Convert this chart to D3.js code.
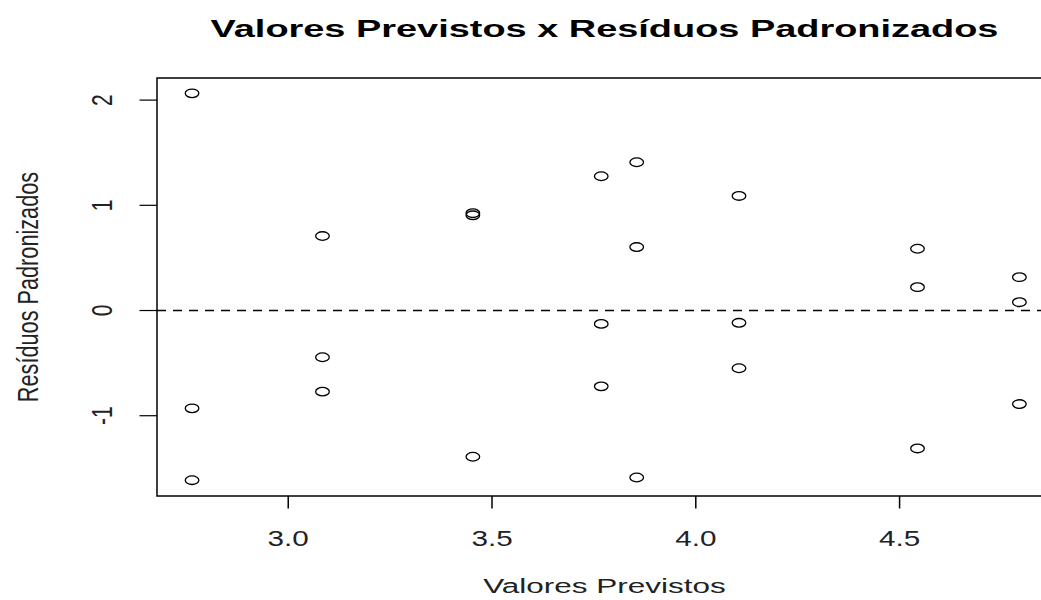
<!DOCTYPE html>
<html>
<head>
<meta charset="utf-8">
<script src="https://cdn.jsdelivr.net/npm/d3@7"></script>
<style>
  body { margin: 0; background: #fff; overflow: hidden; }
  svg { display: block; font-family: "Liberation Sans", Arial, sans-serif; }
</style>
</head>
<body>
<svg id="chart" width="1041" height="600"></svg>
<script>
// valores previstos (x) e residuos padronizados (y)
const previstos = [
  2.764, 2.764, 2.764,
  3.084, 3.084, 3.084,
  3.453, 3.453, 3.453,
  3.768, 3.768, 3.768,
  3.855, 3.855, 3.855,
  4.106, 4.106, 4.106,
  4.544, 4.544, 4.544,
  4.794, 4.794, 4.794
];
const residuos = [
  2.064, -0.930, -1.613,
  0.708, -0.444, -0.771,
  0.925, 0.905, -1.390,
  1.276, -0.127, -0.721,
  1.409, 0.603, -1.587,
  1.089, -0.117, -0.549,
  0.587, 0.222, -1.311,
  0.317, 0.079, -0.889
];
const xTicks = [3.0, 3.5, 4.0, 4.5];
const yTicks = [-1, 0, 1, 2];

const titulo = 'Valores Previstos x Resíduos Padronizados';
const rotuloX = 'Valores Previstos';
const rotuloY = 'Resíduos Padronizados';

const svg = d3.select('#chart');
const box = { left: 157, right: 1052, top: 78, bottom: 496 };
const stretch = 1.38;   // the picture is wider than it is tall

const x = d3.scaleLinear().domain([2.678, 4.874]).range([box.left, box.right]);
const y = d3.scaleLinear().domain([-1.763, 2.21]).range([box.bottom, box.top]);

// linha de referencia em zero
svg.append('line')
  .attr('x1', box.left).attr('x2', box.right)
  .attr('y1', y(0)).attr('y2', y(0))
  .attr('stroke', '#000')
  .attr('stroke-width', 1.3)
  .attr('stroke-dasharray', '9,7');

// pontos
svg.append('g')
  .selectAll('ellipse')
  .data(previstos.map((d, i) => ({ x: d, y: residuos[i] })))
  .join('ellipse')
  .attr('cx', d => x(d.x))
  .attr('cy', d => y(d.y))
  .attr('rx', 6.8)
  .attr('ry', 4.3)
  .attr('fill', 'none')
  .attr('stroke', '#000')
  .attr('stroke-width', 1.3);

// moldura
svg.append('rect')
  .attr('x', box.left).attr('y', box.top)
  .attr('width', box.right - box.left)
  .attr('height', box.bottom - box.top)
  .attr('fill', 'none')
  .attr('stroke', '#000')
  .attr('stroke-width', 1.5);

// eixo x
const xAxis = svg.append('g');
xAxis.selectAll('line')
  .data(xTicks)
  .join('line')
  .attr('x1', d => x(d)).attr('x2', d => x(d))
  .attr('y1', box.bottom).attr('y2', box.bottom + 12.5)
  .attr('stroke', '#000')
  .attr('stroke-width', 1.5);
xAxis.selectAll('text')
  .data(xTicks)
  .join('text')
  .attr('transform', d => `translate(${x(d)}, 546) scale(${stretch}, 1)`)
  .attr('text-anchor', 'middle')
  .attr('font-size', 21.5)
  .attr('fill', '#222')
  .text(d3.format('.1f'));

// eixo y
const yAxis = svg.append('g');
yAxis.selectAll('line')
  .data(yTicks)
  .join('line')
  .attr('x1', box.left - 17.5).attr('x2', box.left)
  .attr('y1', d => y(d)).attr('y2', d => y(d))
  .attr('stroke', '#000')
  .attr('stroke-width', 1.2);
yAxis.selectAll('text')
  .data(yTicks)
  .join('text')
  .attr('transform', d => `translate(112, ${y(d)}) scale(${stretch}, 1) rotate(-90)`)
  .attr('text-anchor', 'middle')
  .attr('font-size', 21)
  .attr('fill', '#222')
  .text(d => d);

// rotulos
svg.append('text')
  .attr('transform', `translate(${(box.left + box.right) / 2}, 593) scale(1.5, 1)`)
  .attr('text-anchor', 'middle')
  .attr('font-size', 21)
  .attr('fill', '#222')
  .text(rotuloX);

svg.append('text')
  .attr('transform', `translate(38, ${(box.top + box.bottom) / 2}) scale(${stretch}, 1) rotate(-90)`)
  .attr('text-anchor', 'middle')
  .attr('font-size', 21.7)
  .attr('fill', '#222')
  .text(rotuloY);

// titulo
svg.append('text')
  .attr('transform', `translate(${(box.left + box.right) / 2}, 37) scale(1.58, 1)`)
  .attr('text-anchor', 'middle')
  .attr('font-size', 24)
  .attr('font-weight', 'bold')
  .attr('fill', '#000')
  .text(titulo);
</script>
</body>
</html>
